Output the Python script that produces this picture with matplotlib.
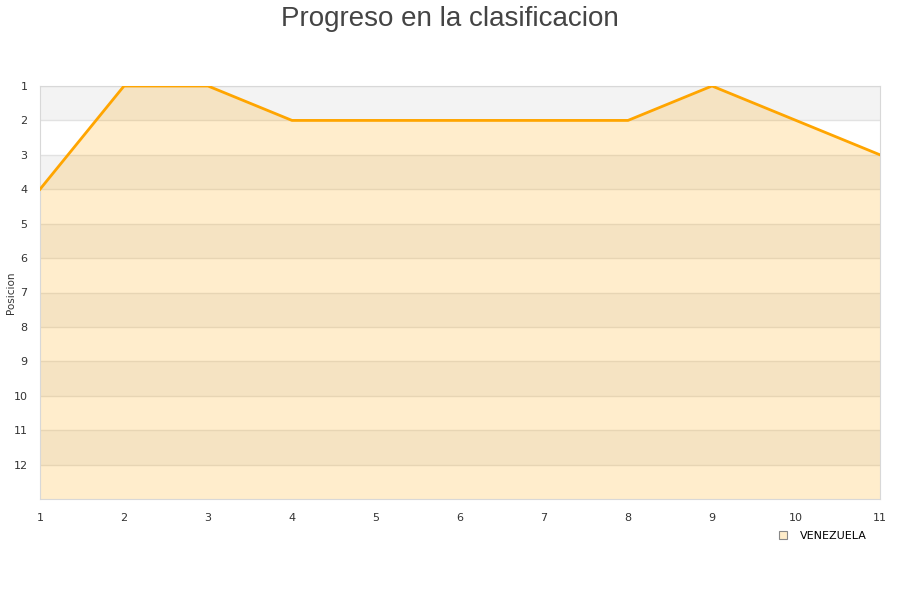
import matplotlib
matplotlib.use('Agg')
import matplotlib.pyplot as plt
import numpy as np

jornadas = [1, 2, 3, 4, 5, 6, 7, 8, 9, 10, 11]
posiciones = [4, 1, 1, 2, 2, 2, 2, 2, 1, 2, 3]
equipo = 'VENEZUELA'
max_pos = 13

fig = plt.figure(figsize=(9, 6), dpi=100)
ax = fig.add_axes([40 / 900, 1 - 499 / 600, 840 / 900, 413 / 600])

# alternating bands
for p in range(1, max_pos):
    if p % 2 == 1:
        ax.axhspan(p, p + 1, color='#f3f3f3', lw=0, zorder=0)
    ax.axhline(p, color='#e2e2e2', lw=1, zorder=1)

ax.fill_between(jornadas, posiciones, max_pos, color='#ffa500', alpha=0.2, lw=0, zorder=2)
ax.plot(jornadas, posiciones, color='#ffa500', lw=2, zorder=3, label=equipo)

ax.set_xlim(1, 11)
ax.set_ylim(max_pos, 1)
ax.set_xticks(jornadas)
ax.set_yticks(range(1, max_pos))
ax.tick_params(axis='both', length=0, labelsize=8, colors='#333333', pad=9)
ax.tick_params(axis='x', pad=10)
for s in ax.spines.values():
    s.set_color('#d8d8d8')

ax.set_ylabel('Posicion', fontsize=7.5, color='#333333')
ax.yaxis.set_label_coords(-24 / 840, 0.5)
fig.suptitle('Progreso en la clasificacion', fontsize=20, color='#444444', y=0.99,
             family='Liberation Sans')

h = plt.Line2D([], [], marker='s', ls='none', markersize=6,
               markerfacecolor='#feecc9', markeredgecolor='#888888', markeredgewidth=0.8)
fig.legend([h], [equipo], loc='center', bbox_to_anchor=(819 / 900, 1 - 536 / 600),
           frameon=False, fontsize=8, handletextpad=0.5)

fig.savefig('out.png', dpi=100)
